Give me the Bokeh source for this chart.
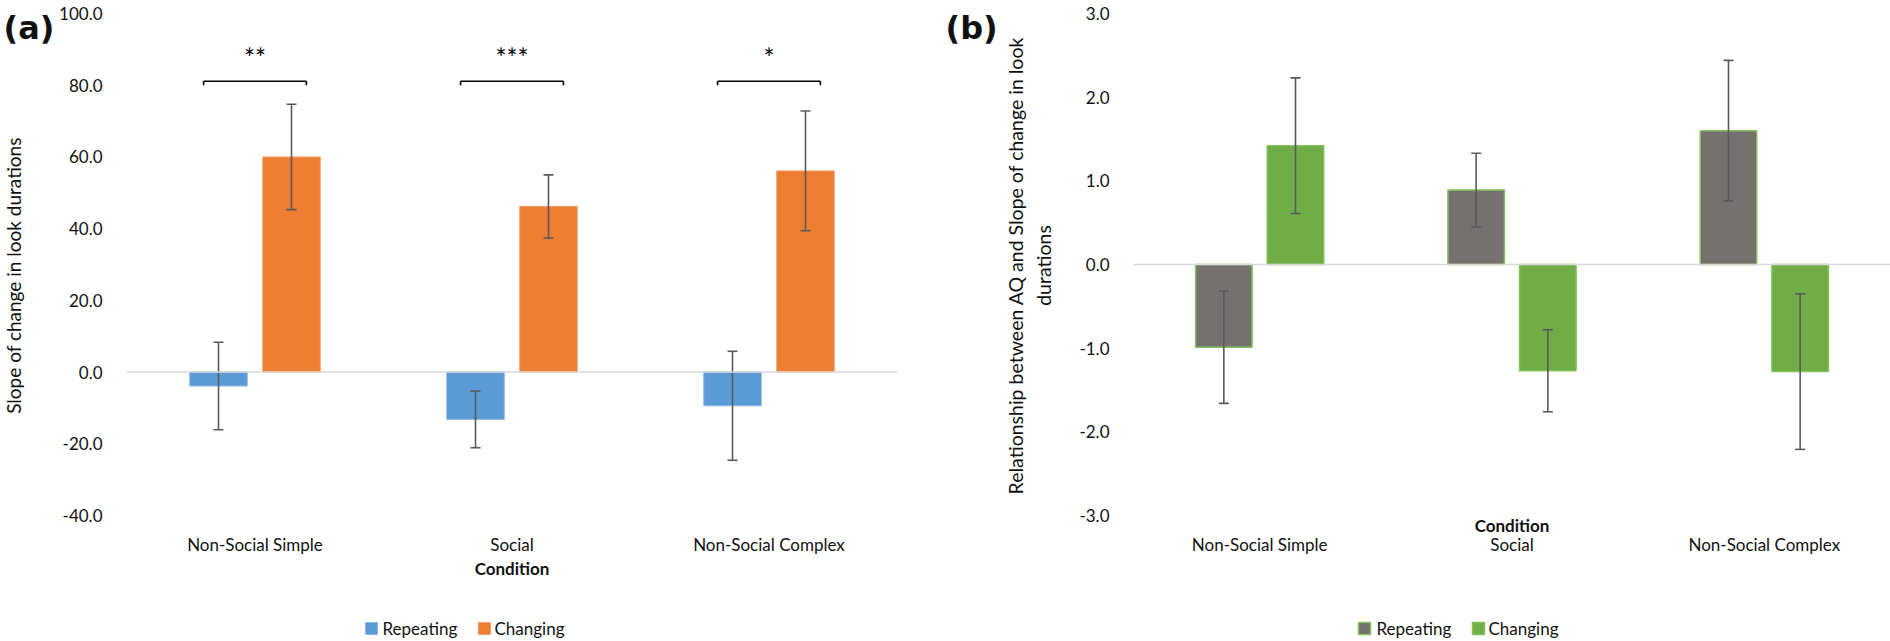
from bokeh.plotting import figure
from bokeh.models import (FactorRange, Range1d, ColumnDataSource, Span,
                          FixedTicker, NumeralTickFormatter)
from bokeh.transform import dodge
from bokeh.layouts import row, column
from bokeh.embed import file_html
from bokeh.resources import INLINE
from bokeh.core.properties import value
import math

# ---------------- data ----------------
categories = ["Non-Social Simple", "Social", "Non-Social Complex"]
series = ["Repeating", "Changing"]

a_repeating = [-3.9, -13.2, -9.4]
a_repeating_err = [12.2, 7.9, 15.2]
a_changing = [60.0, 46.2, 56.1]
a_changing_err = [14.7, 8.8, 16.7]
a_significance = ["**", "***", "*"]
a_ticks = [-40, -20, 0, 20, 40, 60, 80, 100]
a_ylabel = "Slope of change in look durations"

b_repeating = [-0.99, 0.89, 1.60]
b_repeating_err = [0.67, 0.44, 0.84]
b_changing = [1.42, -1.27, -1.28]
b_changing_err = [0.81, 0.49, 0.93]
b_ticks = [-3, -2, -1, 0, 1, 2, 3]
b_ylabel = ["Relationship between AQ and Slope of change in look", "durations"]

xlabel = "Condition"

FONT = "Lato"
TXT = "#111111"
ERR_COLOR = "#5a5a5a"
OFF = 0.142
BAR_W = 0.224
H = 641          # whole page height
HP = 600         # chart figure height (legend strip below)
A_COLORS = ["#5b9bd5", "#ed7d31"]
A_LINES = ["#8db9e3", "#f2a06b"]
B_COLORS = ["#767171", "#70ad47"]
B_LINES = ["#82c05a", "#82c05a"]


def base_fig(yr, ticks, left, fw, right):
    p = figure(x_range=FactorRange(factors=categories), y_range=yr,
               frame_width=fw, frame_height=502,
               min_border_left=left, min_border_right=right,
               min_border_top=13, min_border_bottom=HP - 13 - 502,
               output_backend="svg", toolbar_location=None,
               background_fill_color="white", border_fill_color="white")
    p.outline_line_color = None
    p.xgrid.visible = False
    p.ygrid.visible = False
    for ax in (p.xaxis, p.yaxis):
        ax.axis_line_color = None
        ax.major_tick_line_color = None
        ax.minor_tick_line_color = None
        ax.major_label_text_font = FONT
        ax.major_label_text_font_size = "17px"
        ax.major_label_text_color = TXT
    p.yaxis.ticker = FixedTicker(ticks=ticks)
    p.yaxis.formatter = NumeralTickFormatter(format="0.0")
    p.yaxis.major_label_standoff = 18
    p.xaxis.major_label_standoff = 12
    p.xaxis.axis_label = xlabel
    p.xaxis.axis_label_text_font = FONT
    p.xaxis.axis_label_text_font_size = "17px"
    p.xaxis.axis_label_text_font_style = "bold"
    p.xaxis.axis_label_text_color = TXT
    p.add_layout(Span(location=0, dimension="width", line_color="#d9d9d9", line_width=1.5))
    return p


def add_bars(p, rep, rep_err, chg, chg_err, fills, lines, lw):
    src = ColumnDataSource(dict(
        cat=categories,
        rep=rep, rep_lo=[v - e for v, e in zip(rep, rep_err)], rep_hi=[v + e for v, e in zip(rep, rep_err)],
        chg=chg, chg_lo=[v - e for v, e in zip(chg, chg_err)], chg_hi=[v + e for v, e in zip(chg, chg_err)],
    ))
    xr = dodge("cat", -OFF, range=p.x_range)
    xc = dodge("cat", OFF, range=p.x_range)
    p.vbar(x=xr, top="rep", bottom=0, width=BAR_W, source=src,
           fill_color=fills[0], line_color=lines[0], line_width=lw)
    p.vbar(x=xc, top="chg", bottom=0, width=BAR_W, source=src,
           fill_color=fills[1], line_color=lines[1], line_width=lw)
    for x, lo, hi in ((xr, "rep_lo", "rep_hi"), (xc, "chg_lo", "chg_hi")):
        p.segment(x0=x, x1=x, y0=lo, y1=hi, source=src, line_color=ERR_COLOR, line_width=1.6)
        p.scatter(x=x, y=lo, marker="dash", size=10, source=src, line_color=ERR_COLOR, line_width=1.6)
        p.scatter(x=x, y=hi, marker="dash", size=10, source=src, line_color=ERR_COLOR, line_width=1.6)


def plain_fig(w, h, left=0, right=0):
    m = figure(x_range=Range1d(0, w), y_range=Range1d(0, h),
               frame_width=w, frame_height=h, min_border=0,
               min_border_left=left, min_border_right=right,
               min_border_top=0, min_border_bottom=0,
               x_axis_location=None, y_axis_location=None, title_location=None,
               output_backend="svg", toolbar_location=None,
               background_fill_color="white", border_fill_color="white")
    m.grid.visible = False
    m.outline_line_color = None
    return m


def legend_strip(left, fw, right, fills, lines, lw, key_x, label_x):
    """Legend row drawn under a chart: coloured keys + series names.
    x positions are measured from the chart frame's left edge."""
    s = plain_fig(fw, H - HP, left, right)
    ly = H - 628
    s.scatter(x=key_x, y=[ly] * len(series), marker="square", size=12,
              fill_color=fills, line_color=lines, line_width=lw)
    s.text(x=label_x, y=[ly] * len(series), text=series,
           text_font=value(FONT), text_font_size="17px", text_align="left",
           text_baseline="middle", text_color=TXT)
    return s


def mtext(m, x, y_top, text, size, bold=False, angle=0.0, align="center", font=FONT):
    m.text(x=[x], y=[H - y_top], text=[text], angle=angle,
           text_font=value(font), text_font_size=size,
           text_font_style="bold" if bold else "normal",
           text_align=align, text_baseline="middle", text_color=TXT)


# ---------------- panel (a) ----------------
ma = plain_fig(56, H)
mtext(ma, 3, 27, "(a)", "32px", bold=True, align="left", font="DejaVu Sans")
mtext(ma, 13, 275, a_ylabel, "19px", angle=math.pi / 2)

pa = base_fig(Range1d(-40, 100), a_ticks, 70, 771, 43)
add_bars(pa, a_repeating, a_repeating_err, a_changing, a_changing_err, A_COLORS, A_LINES, 1)
pa.xaxis.axis_label_standoff = 0

sig_src = ColumnDataSource(dict(cat=categories, sig=a_significance))
BRK_TOP, BRK_BOT, STAR_Y = 81.1, 80.0, 87.5
bl = dodge("cat", -0.2, range=pa.x_range)
br = dodge("cat", 0.2, range=pa.x_range)
pa.segment(x0=bl, x1=br, y0=BRK_TOP, y1=BRK_TOP, source=sig_src, line_color="black", line_width=1.6)
pa.segment(x0=bl, x1=bl, y0=BRK_BOT, y1=BRK_TOP, source=sig_src, line_color="black", line_width=1.6)
pa.segment(x0=br, x1=br, y0=BRK_BOT, y1=BRK_TOP, source=sig_src, line_color="black", line_width=1.6)
pa.text(x="cat", y=STAR_Y, text="sig", source=sig_src, text_align="center",
        text_baseline="middle", text_font=value(FONT), text_font_size="26px", text_color="black")
la = legend_strip(70, 771, 43, A_COLORS, A_LINES, 1, [245, 358], [256, 368])

# ---------------- panel (b) ----------------
mb = plain_fig(122, H)
mtext(mb, 5, 27, "(b)", "32px", bold=True, align="left", font="DejaVu Sans")
mtext(mb, 75, 265, b_ylabel[0], "19.5px", angle=math.pi / 2)
mtext(mb, 103, 265, b_ylabel[1], "19.5px", angle=math.pi / 2)

pb = base_fig(Range1d(-3, 3), b_ticks, 71, 757, 0)
add_bars(pb, b_repeating, b_repeating_err, b_changing, b_changing_err, B_COLORS, B_LINES, 1.5)
pb.xaxis.axis_label_standoff = -43
lb = legend_strip(71, 757, 0, B_COLORS, B_LINES, 1.5, [231, 345], [243, 355])

layout = row(ma, column(pa, la), mb, column(pb, lb))
open("out.html", "w").write(file_html(layout, INLINE))
